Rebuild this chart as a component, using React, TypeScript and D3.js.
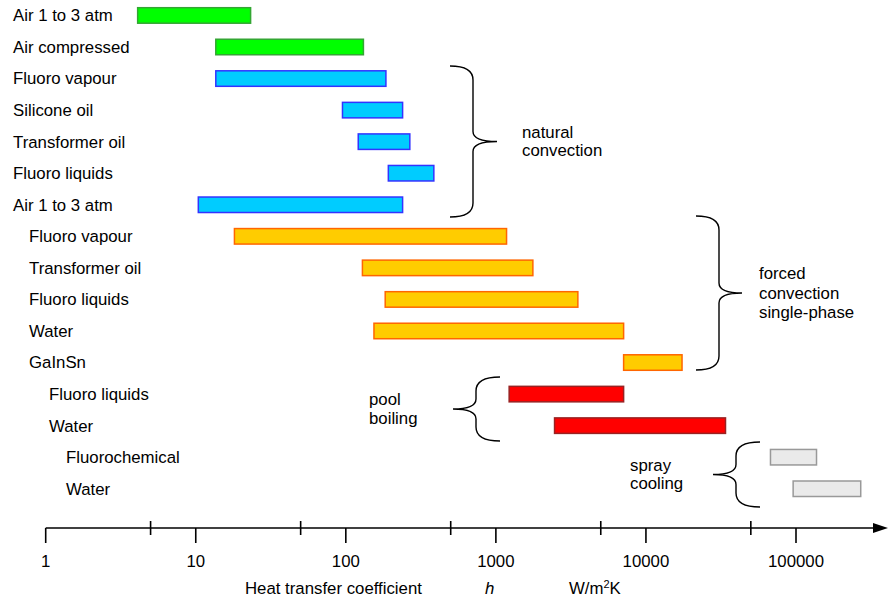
import React from "react";
import * as d3 from "d3";

const labels = [
  "Air 1 to 3 atm",
  "Air compressed",
  "Fluoro vapour",
  "Silicone oil",
  "Transformer oil",
  "Fluoro liquids",
  "Air 1 to 3 atm",
  "Fluoro vapour",
  "Transformer oil",
  "Fluoro liquids",
  "Water",
  "GaInSn",
  "Fluoro liquids",
  "Water",
  "Fluorochemical",
  "Water",
];
const lows = [4.1, 13.6, 13.6, 95, 121, 192, 10.4, 18.1, 129, 183, 154, 7100, 1226, 2460, 67600, 95700];
const highs = [23.2, 131, 185, 239, 267, 386, 239, 1178, 1764, 3518, 7100, 17400, 7100, 33900, 137000, 270000];
const groups = [
  "air", "air",
  "natural", "natural", "natural", "natural", "natural",
  "forced", "forced", "forced", "forced", "forced",
  "pool", "pool",
  "spray", "spray",
];
const majorTicks = [1, 10, 100, 1000, 10000, 100000];
const minorTicks = [5, 50, 500, 5000, 50000];
const majorTickLabels = ["1", "10", "100", "1000", "10000", "100000"];

const groupStyle: Record<string, { fill: string; stroke: string; labelX: number }> = {
  air: { fill: "#00FF00", stroke: "#33A633", labelX: 13 },
  natural: { fill: "#00CCFF", stroke: "#3333FF", labelX: 13 },
  forced: { fill: "#FFCC00", stroke: "#FF6600", labelX: 29 },
  pool: { fill: "#FF0000", stroke: "#992222", labelX: 49 },
  spray: { fill: "#EAEAEA", stroke: "#999999", labelX: 66 },
};

// brace annotations: which way, x of ends, x of spine, x of tip, top, bottom; text lines
const braces = [
  { dir: 1, x0: 450, xm: 473, xt: 497, y0: 66, y1: 217, text: ["natural", "convection"], tx: 522, ty: 131.7, lh: 18.5 },
  { dir: 1, x0: 696, xm: 719, xt: 742, y0: 216, y1: 370, text: ["forced", "convection", "single-phase"], tx: 759, ty: 273.3, lh: 19.5 },
  { dir: -1, x0: 500, xm: 476, xt: 453, y0: 377, y1: 441, text: ["pool", "boiling"], tx: 369, ty: 399.3, lh: 19 },
  { dir: -1, x0: 760, xm: 736, xt: 713, y0: 442, y1: 507, text: ["spray", "cooling"], tx: 630, ty: 465, lh: 18 },
];

const FONT = "'Liberation Sans', Arial, sans-serif";
const FS = 16.8;

function bracePath(b: { x0: number; xm: number; xt: number; y0: number; y1: number }) {
  const ym = (b.y0 + b.y1) / 2;
  const r = 14;
  const r2 = 10;
  return [
    `M${b.x0},${b.y0}`,
    `Q${b.xm},${b.y0} ${b.xm},${b.y0 + r}`,
    `L${b.xm},${ym - r2}`,
    `Q${b.xm},${ym} ${b.xt},${ym}`,
    `Q${b.xm},${ym} ${b.xm},${ym + r2}`,
    `L${b.xm},${b.y1 - r}`,
    `Q${b.xm},${b.y1} ${b.x0},${b.y1}`,
  ].join(" ");
}

export default function App() {
  const W = 888;
  const H = 599;
  const x = d3.scaleLog().domain([1, 100000]).range([45.7, 796]);
  const y = d3.scaleLinear().domain([0, labels.length - 1]).range([7.7, 481]);
  const barH = 15.5;
  const axisY = 528;

  return (
    <svg
      width={W}
      height={H}
      style={{ position: "absolute", left: 0, top: 0, background: "#fff" }}
      fontFamily={FONT}
    >
      <rect x={0} y={0} width={W} height={H} fill="#fff" />
      {labels.map((lab, i) => {
        const st = groupStyle[groups[i]];
        const x0 = x(lows[i]);
        const x1 = x(highs[i]);
        const top = y(i);
        return (
          <g key={i}>
            <rect
              x={x0}
              y={top}
              width={x1 - x0}
              height={barH}
              fill={st.fill}
              stroke={st.stroke}
              strokeWidth={1.5}
            />
            <text x={st.labelX} y={top + barH / 2} dy="0.35em" fontSize={FS} fill="#000">
              {lab}
            </text>
          </g>
        );
      })}

      {braces.map((b, i) => (
        <g key={i}>
          <path d={bracePath(b)} fill="none" stroke="#000" strokeWidth={1.4} />
          {b.text.map((t, j) => (
            <text key={j} x={b.tx} y={b.ty + j * b.lh} dy="0.35em" fontSize={FS} fill="#000">
              {t}
            </text>
          ))}
        </g>
      ))}

      {/* axis */}
      <line x1={x(1)} x2={878} y1={axisY} y2={axisY} stroke="#000" strokeWidth={1.6} />
      <polygon points={`873,${axisY - 5} 888,${axisY} 873,${axisY + 5}`} fill="#000" />
      {majorTicks.map((t, i) => (
        <g key={t}>
          <line x1={x(t)} x2={x(t)} y1={axisY} y2={axisY + 15} stroke="#000" strokeWidth={1.6} />
          <text x={x(t)} y={561} dy="0.35em" textAnchor="middle" fontSize={FS} fill="#000">
            {majorTickLabels[i]}
          </text>
        </g>
      ))}
      {minorTicks.map((t) => (
        <line key={t} x1={x(t)} x2={x(t)} y1={axisY - 7} y2={axisY + 7} stroke="#000" strokeWidth={1.6} />
      ))}
      <text x={245} y={588} dy="0.35em" fontSize={FS} fill="#000">
        Heat transfer coefficient
      </text>
      <text x={485} y={588} dy="0.35em" fontSize={FS} fontStyle="italic" fill="#000">
        h
      </text>
      <text x={569} y={588} dy="0.35em" fontSize={FS} fill="#000">
        W/m
        <tspan fontSize={11} dy="-0.55em">2</tspan>
        <tspan dy="0.35em">K</tspan>
      </text>
    </svg>
  );
}
